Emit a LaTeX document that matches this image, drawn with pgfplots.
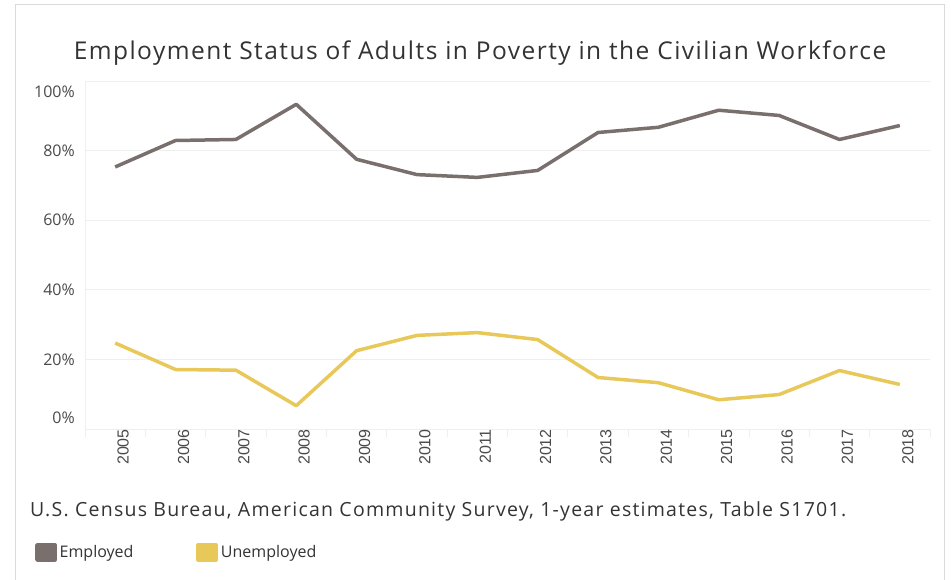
\documentclass[border=0pt]{standalone}
\usepackage{fontspec}
\setmainfont{Open Sans}
\newfontfamily\arialf{Liberation Sans}
\usepackage{pgfplots}
\pgfplotsset{compat=1.18}

\definecolor{empl}{HTML}{79706E}
\definecolor{unempl}{HTML}{E9C85A}
\definecolor{gridc}{HTML}{EFEFEF}
\definecolor{framec}{HTML}{DADADA}
\definecolor{txt}{HTML}{333333}
\definecolor{ticktxt}{HTML}{4A4A4A}

\begin{document}
\begin{tikzpicture}
\useasboundingbox (0,0) rectangle (951pt,579pt);
% outer frame
\draw[framec, line width=1pt] (15pt,-2pt) -- (15pt,574pt) -- (944pt,574pt) -- (944pt,-2pt);
% title
\node[anchor=base, inner sep=0pt, text=txt, font=\fontsize{24.5}{28}\selectfont\addfontfeatures{LetterSpace=6}] at (480pt,519pt)
  {Employment Status of Adults in Poverty in the Civilian Workforce};
% source
\node[anchor=base west, inner sep=0pt, text=txt, font=\fontsize{19.5}{22}\selectfont\addfontfeatures{LetterSpace=6.4}] at (30pt,63pt)
  {U.S. Census Bureau, American Community Survey, 1-year estimates, Table S1701.};

\begin{axis}[
  at={(85pt,150pt)}, anchor=south west,
  scale only axis, width=845pt, height=348pt,
  xmin=2004.5, xmax=2018.5, ymin=0, ymax=100,
  axis lines=left, axis line style={gridc, line width=0.8pt, -},
  xtick={2005,...,2018},
  minor xtick={2004.5,2005.5,...,2018.5},
  major tick length=0pt, minor tick length=8pt,
  tick align=outside,
  minor tick style={gridc, line width=0.8pt},
  xticklabel={\pgfmathprintnumber[1000 sep={}]{\tick}},
  xticklabel style={rotate=90, anchor=east, inner sep=0pt, yshift=-8pt,
    font=\arialf\fontsize{16}{18}\selectfont, text=ticktxt},
  ytick={0,20,...,100},
  yticklabel={\pgfmathprintnumber{\tick}\%},
  yticklabel style={anchor=east, inner sep=0pt, xshift=-10pt,
    yshift={(\tick>99 ? -11 : (\tick<1 ? 11 : 0))},
    font=\fontsize{16}{18}\selectfont, text=ticktxt},
  /pgf/number format/assume math mode=true,
  ymajorgrids, grid style={gridc, line width=0.8pt},
  legend columns=2,
  legend style={at={(-0.0592,-0.3276)}, anchor=north west, draw=none, fill=none,
    inner sep=0pt, font=\fontsize{16}{20}\selectfont, text=txt,
    /tikz/every odd column/.append style={column sep=1pt},
    /tikz/every even column/.append style={column sep=61pt}},
  legend image code/.code={\fill[#1] (0pt,-7.5pt) rectangle (18pt,7.5pt);},
]
\addplot[empl, line width=3.5pt, line join=round] coordinates {
  (2005,75.3) (2006,82.9) (2007,83.2) (2008,93.3) (2009,77.5) (2010,73.1) (2011,72.3)
  (2012,74.3) (2013,85.2) (2014,86.7) (2015,91.6) (2016,90.1) (2017,83.2) (2018,87.2)
};
\addlegendentry{Employed}
\addplot[unempl, line width=3.5pt, line join=round] coordinates {
  (2005,24.7) (2006,17.1) (2007,16.9) (2008,6.7) (2009,22.5) (2010,26.9) (2011,27.7)
  (2012,25.7) (2013,14.8) (2014,13.3) (2015,8.4) (2016,9.9) (2017,16.8) (2018,12.8)
};
\addlegendentry{Unemployed}
\end{axis}
\end{tikzpicture}
\end{document}
